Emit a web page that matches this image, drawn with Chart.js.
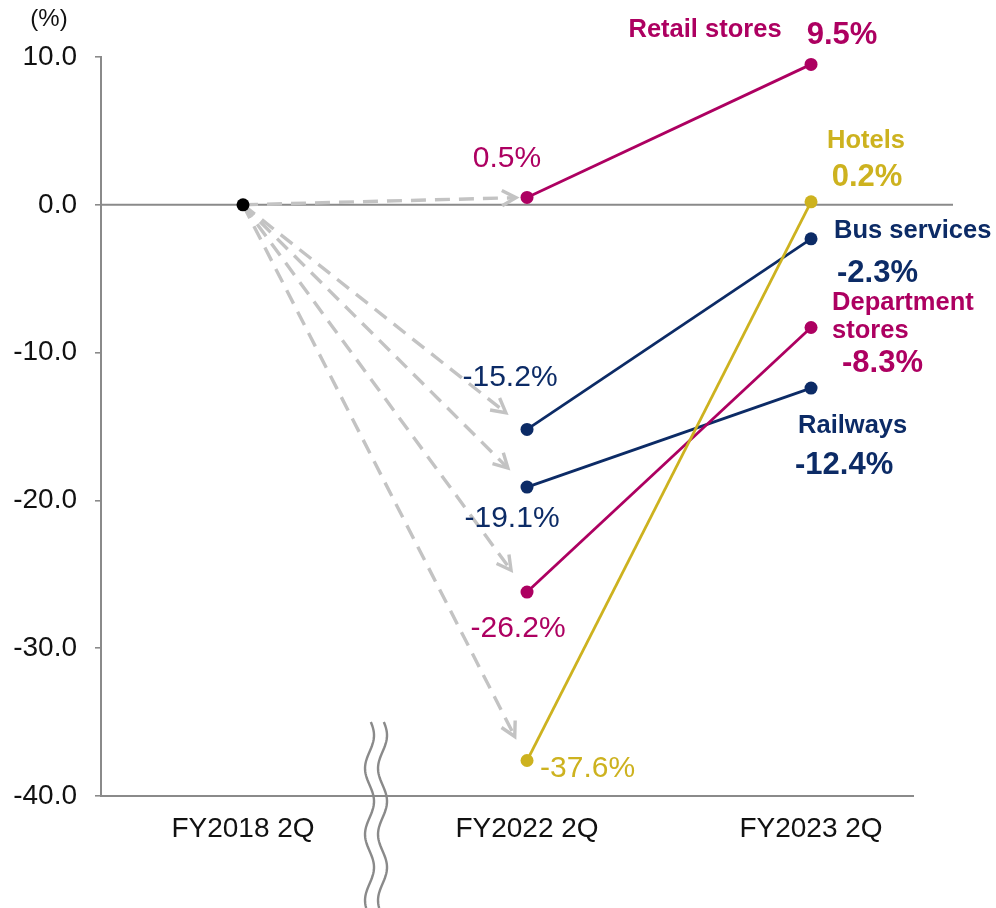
<!DOCTYPE html>
<html>
<head>
<meta charset="utf-8">
<script src="https://cdn.jsdelivr.net/npm/chart.js@4"></script>
<style>
  html, body { margin: 0; padding: 0; background: #fff; }
  #wrap { width: 996px; height: 908px; position: relative; }
</style>
</head>
<body>
<div id="wrap"><canvas id="c" width="996" height="908"></canvas></div>
<script>
// ---- data ----
const periods = ['FY2018 2Q', 'FY2022 2Q', 'FY2023 2Q'];
const seriesNames = ['Retail stores', 'Hotels', 'Bus services', 'Department stores', 'Railways'];
const fy2018 = [0, 0, 0, 0, 0];
const fy2022 = [0.5, -37.6, -15.2, -26.2, -19.1];
const fy2023 = [9.5, 0.2, -2.3, -8.3, -12.4];
const yTickValues = [10, 0, -10, -20, -30, -40];
const unitLabel = '(%)';

// ---- styles ----
const MAG = '#AD0061', GOLD = '#CDB21F', NAVY = '#0C2B66';
const seriesColors = [MAG, GOLD, NAVY, MAG, NAVY];
const FONT = "'Liberation Sans', Arial, Helvetica, sans-serif";
const AXIS_GRAY = '#8a8a8a';
const ARROW_GRAY = '#c3c3c3';

// label placement (pixel offsets from the point)
const midLabel = [
  { dx: -20, dy: -30, align: 'center' },
  { dx: 13, dy: 16, align: 'left' },
  { dx: -17, dy: -43, align: 'center' },
  { dx: -9, dy: 45, align: 'center' },
  { dx: -15, dy: 40, align: 'center' }
];
const endLabel = [
  { name: { dx: -106, dy: -27, align: 'center' }, val: { dx: 31, dy: -20, align: 'center' } },
  { name: { dx: 55, dy: -54, align: 'center' }, val: { dx: 56, dy: -16, align: 'center' } },
  { name: { dx: 23, dy: -1, align: 'left' }, val: { dx: 26, dy: 43, align: 'left' } },
  { name: { dx: 21, dy: -17, align: 'left', split: true, lh: 28 }, val: { dx: 31, dy: 45, align: 'left' } },
  { name: { dx: -13, dy: 45, align: 'left' }, val: { dx: -16, dy: 86, align: 'left' } }
];

const fmt = v => v.toFixed(1) + '%';

const datasets = seriesNames.map((n, i) => ({
  label: n,
  data: [{ x: 1, y: fy2022[i] }, { x: 2, y: fy2023[i] }],
  showLine: true,
  borderColor: seriesColors[i],
  backgroundColor: seriesColors[i],
  borderWidth: 2.8,
  pointRadius: 6.5,
  pointHoverRadius: 6.5,
  pointBorderWidth: 0,
  tension: 0
}));
datasets.push({
  label: 'base',
  data: [{ x: 0, y: fy2018[0] }],
  backgroundColor: '#000',
  borderColor: '#000',
  pointRadius: 6.5,
  pointBorderWidth: 0,
  showLine: false
});

const decorPlugin = {
  id: 'decor',
  beforeDatasetsDraw(chart) {
    const { ctx, chartArea, scales: { x, y } } = chart;
    ctx.save();
    // zero line (extends past the plot to the right)
    const y0 = y.getPixelForValue(0);
    ctx.strokeStyle = AXIS_GRAY;
    ctx.lineWidth = 2;
    ctx.beginPath();
    ctx.moveTo(chartArea.left, y0);
    ctx.lineTo(chartArea.right + 40, y0);
    ctx.stroke();

    // dashed arrows from FY2018 point to each FY2022 point
    const sx = x.getPixelForValue(0), sy = y.getPixelForValue(fy2018[0]);
    ctx.strokeStyle = ARROW_GRAY;
    ctx.lineWidth = 3.4;
    fy2022.forEach((v, i) => {
      const tx = x.getPixelForValue(1), ty = y.getPixelForValue(v);
      const dx = tx - sx, dy = ty - sy;
      const len = Math.hypot(dx, dy);
      const ang = Math.atan2(dy, dx);
      const gap = Math.abs(ang) < 0.2 ? 11 : 27;
      const ex = sx + dx * (len - gap) / len, ey = sy + dy * (len - gap) / len;
      ctx.setLineDash([15, 9]);
      ctx.beginPath();
      ctx.moveTo(sx, sy);
      ctx.lineTo(ex - Math.cos(ang) * 2, ey - Math.sin(ang) * 2);
      ctx.stroke();
      ctx.setLineDash([]);
      const h = 16, a = 0.5;
      ctx.beginPath();
      ctx.moveTo(ex - h * Math.cos(ang - a), ey - h * Math.sin(ang - a));
      ctx.lineTo(ex, ey);
      ctx.lineTo(ex - h * Math.cos(ang + a), ey - h * Math.sin(ang + a));
      ctx.stroke();
    });
    ctx.restore();
  },
  afterDatasetsDraw(chart) {
    const { ctx, chartArea, scales: { x, y } } = chart;
    ctx.save();
    // axis-break wavy lines
    const bx = (x.getPixelForValue(0) + x.getPixelForValue(1)) / 2 - 9;
    ctx.strokeStyle = AXIS_GRAY;
    ctx.lineWidth = 2.4;
    [-6.5, 6.5].forEach(off => {
      ctx.beginPath();
      for (let py = 722; py <= 908; py += 2) {
        const px = bx + off + 4.5 * Math.sin((py - 722) / 66 * 2 * Math.PI + 0.3);
        if (py === 722) ctx.moveTo(px, py); else ctx.lineTo(px, py);
      }
      ctx.stroke();
    });

    // unit label
    ctx.fillStyle = '#111';
    ctx.font = '24px ' + FONT;
    ctx.textAlign = 'center';
    ctx.textBaseline = 'middle';
    ctx.fillText(unitLabel, 49, 19);

    ctx.textBaseline = 'alphabetic';
    // FY2022 value labels
    fy2022.forEach((v, i) => {
      const px = x.getPixelForValue(1), py = y.getPixelForValue(v);
      const s = midLabel[i];
      ctx.fillStyle = seriesColors[i];
      ctx.font = '30px ' + FONT;
      ctx.textAlign = s.align;
      ctx.fillText(fmt(v), px + s.dx, py + s.dy);
    });
    // FY2023 name + value labels
    fy2023.forEach((v, i) => {
      const px = x.getPixelForValue(2), py = y.getPixelForValue(v);
      const s = endLabel[i];
      ctx.fillStyle = seriesColors[i];
      ctx.font = 'bold 25.5px ' + FONT;
      ctx.textAlign = s.name.align;
      const lines = s.name.split ? seriesNames[i].split(' ') : [seriesNames[i]];
      lines.forEach((ln, k) => ctx.fillText(ln, px + s.name.dx, py + s.name.dy + k * (s.name.lh || 0)));
      ctx.font = 'bold 31px ' + FONT;
      ctx.textAlign = s.val.align;
      ctx.fillText(fmt(v), px + s.val.dx, py + s.val.dy);
    });
    ctx.restore();
  }
};

new Chart(document.getElementById('c'), {
  type: 'scatter',
  data: { datasets },
  plugins: [decorPlugin],
  options: {
    responsive: false,
    animation: false,
    events: [],
    layout: { padding: { left: 0, top: 57, right: 83, bottom: 0 } },
    plugins: { legend: { display: false }, tooltip: { enabled: false } },
    scales: {
      x: {
        type: 'linear',
        min: -0.5,
        max: 2.359,
        afterBuildTicks: axis => { axis.ticks = [0, 1, 2].map(v => ({ value: v })); },
        afterFit: axis => { axis.height = 112; },
        grid: { drawOnChartArea: false, drawTicks: false },
        border: { display: true, color: AXIS_GRAY, width: 2 },
        ticks: {
          autoSkip: false,
          maxRotation: 0,
          padding: 16,
          color: '#111',
          font: { family: FONT, size: 28 },
          callback: v => periods[v]
        }
      },
      y: {
        type: 'linear',
        min: -40,
        max: 10,
        afterBuildTicks: axis => { axis.ticks = yTickValues.map(v => ({ value: v })); },
        afterFit: axis => { axis.width = 101; },
        grid: { drawOnChartArea: false, drawTicks: true, tickLength: 6, color: AXIS_GRAY, lineWidth: 1.6 },
        border: { display: true, color: AXIS_GRAY, width: 2 },
        ticks: {
          padding: 18,
          color: '#111',
          font: { family: FONT, size: 28 },
          callback: v => v.toFixed(1)
        }
      }
    }
  }
});
</script>
</body>
</html>
